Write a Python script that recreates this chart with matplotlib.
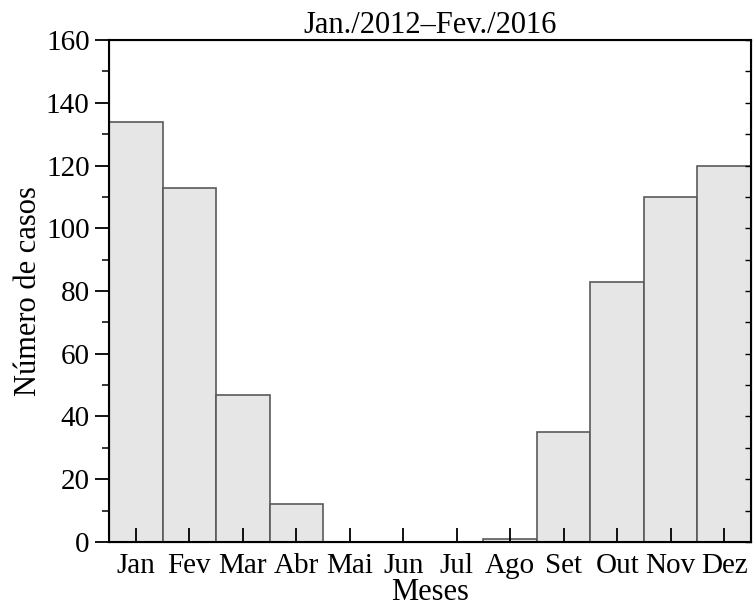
import matplotlib.pyplot as plt
import numpy as np
from matplotlib.ticker import MultipleLocator

meses = ["Jan", "Fev", "Mar", "Abr", "Mai", "Jun", "Jul", "Ago", "Set", "Out", "Nov", "Dez"]
casos = [134, 113, 47, 12, 0, 0, 0, 1, 35, 83, 110, 120]

plt.rcParams['font.family'] = ['Liberation Serif', 'DejaVu Serif']

fig = plt.figure(figsize=(7.53, 6.08), dpi=100)
ax = fig.add_axes([0.1448, 0.1086, 0.8525, 0.8255])

x = np.arange(len(meses))
ax.bar(x, casos, width=1.0, color='#e6e6e6', edgecolor='#5a5a5a', linewidth=1.2)

ax.set_xlim(-0.5, len(meses) - 0.5)
ax.set_ylim(0, 160)
ax.set_xticks(x)
ax.set_xticklabels(meses)
ax.yaxis.set_major_locator(MultipleLocator(20))
ax.yaxis.set_minor_locator(MultipleLocator(10))

# eixo x: ticks para dentro; eixo y: para fora na esquerda, para dentro na direita
ax.tick_params(axis='x', direction='in', length=10, width=1.3, labelsize=21, pad=8)
ax.tick_params(axis='y', which='major', direction='out', length=10, width=1.3, labelsize=21, pad=4)
ax.tick_params(axis='y', which='minor', direction='out', length=5, width=1.1)
for sp in ax.spines.values():
    sp.set_linewidth(1.5)

ax2 = ax.twinx()
ax2.set_ylim(0, 160)
ax2.yaxis.set_major_locator(MultipleLocator(10))
ax2.tick_params(axis='y', direction='in', length=4, width=1.0, labelright=False)

ax.set_title("Jan./2012–Fev./2016", fontsize=22, pad=4)
ax.set_xlabel("Meses", fontsize=22, labelpad=-1)
ax.set_ylabel("Número de casos", fontsize=22, labelpad=2)

fig.savefig("out.png", dpi=100)
